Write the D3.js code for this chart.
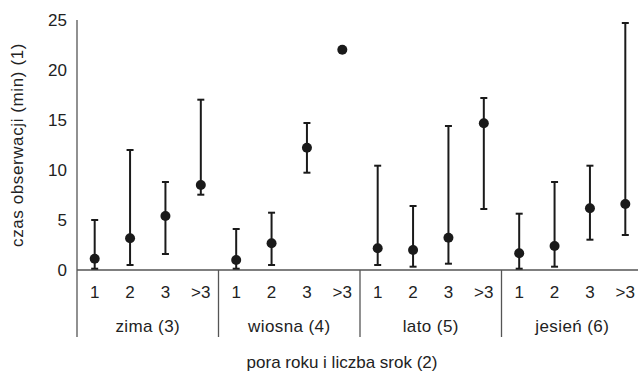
<!DOCTYPE html>
<html><head><meta charset="utf-8">
<script src="https://cdn.jsdelivr.net/npm/d3@7"></script>
<style>body{margin:0;background:#fff}svg{display:block}text{font-family:"Liberation Sans",Arial,sans-serif;fill:#222}</style>
</head><body><svg id="c" width="638" height="373"></svg>
<script>
const seasons = ["zima (3)", "wiosna (4)", "lato (5)", "jesień (6)"];
const counts = ["1", "2", "3", ">3"];
const means = [
  [1.13, 3.17, 5.4, 8.5],
  [1.0, 2.67, 12.23, 22.03],
  [2.17, 2.0, 3.23, 14.67],
  [1.67, 2.4, 6.17, 6.6]
];
const lows = [
  [0.13, 0.5, 1.6, 7.53],
  [0.13, 0.5, 9.73, null],
  [0.5, 0.33, 0.63, 6.1],
  [0.13, 0.33, 3.03, 3.5]
];
const highs = [
  [5.0, 12.0, 8.8, 17.03],
  [4.1, 5.73, 14.7, null],
  [10.43, 6.4, 14.4, 17.2],
  [5.63, 8.8, 10.43, 24.7]
];
const yTicks = [0, 5, 10, 15, 20, 25];

const svg = d3.select("#c");
const pLeft = 77, pRight = 643, pTop = 20, pBottom = 270;
const fs = "17px";
const keys = [];
seasons.forEach((s, i) => counts.forEach((c, j) => keys.push(i + "|" + j)));
const x = d3.scaleBand().domain(keys).range([pLeft, pRight]);
const y = d3.scaleLinear().domain([0, 25]).range([pBottom, pTop]);
const data = [];
seasons.forEach((s, i) => counts.forEach((c, j) => data.push({key: i + "|" + j, c, m: means[i][j], lo: lows[i][j], hi: highs[i][j]})));

// y axis
const ya = svg.append("g").attr("transform", `translate(${pLeft},0)`)
  .call(d3.axisLeft(y).tickValues(yTicks).tickSize(0).tickPadding(10).tickFormat(d3.format("d")));
ya.select(".domain").remove();
ya.selectAll("text").style("font-size", fs).attr("fill", "#222").style("font-family", '"Liberation Sans",Arial,sans-serif');
svg.append("line").attr("x1", pLeft).attr("x2", pLeft).attr("y1", pTop).attr("y2", 337).attr("stroke", "#555").attr("stroke-width", 1.3);
svg.append("line").attr("x1", pLeft).attr("x2", 638).attr("y1", pBottom).attr("y2", pBottom).attr("stroke", "#555").attr("stroke-width", 1.3);

// group separators
const gw = x.step() * counts.length;
seasons.forEach((s, i) => {
  const gx = pLeft + gw * i;
  if (i > 0) svg.append("line").attr("x1", gx).attr("x2", gx).attr("y1", pBottom).attr("y2", 337).attr("stroke", "#555").attr("stroke-width", 1.3);
  svg.append("text").attr("x", gx + gw / 2).attr("y", 332).attr("text-anchor", "middle")
    .style("font-size", fs).style("letter-spacing", "0.4px").text(s);
});
// category labels
svg.selectAll("text.cat").data(data).enter().append("text").attr("class", "cat")
  .attr("x", d => x(d.key) + x.bandwidth() / 2).attr("y", 298).attr("text-anchor", "middle")
  .style("font-size", fs).text(d => d.c);

// error bars
const eb = data.filter(d => d.lo != null);
const cx = d => x(d.key) + x.bandwidth() / 2;
svg.selectAll("line.eb").data(eb).enter().append("line").attr("class", "eb")
  .attr("x1", cx).attr("x2", cx).attr("y1", d => y(d.lo)).attr("y2", d => y(d.hi))
  .attr("stroke", "#1a1a1a").attr("stroke-width", 2);
["lo", "hi"].forEach(k => {
  svg.selectAll("line.cap" + k).data(eb).enter().append("line").attr("class", "cap" + k)
    .attr("x1", d => cx(d) - 3.5).attr("x2", d => cx(d) + 3.5)
    .attr("y1", d => y(d[k])).attr("y2", d => y(d[k]))
    .attr("stroke", "#1a1a1a").attr("stroke-width", 2);
});
svg.selectAll("circle").data(data).enter().append("circle")
  .attr("cx", cx).attr("cy", d => y(d.m)).attr("r", 5).attr("fill", "#1a1a1a");

// titles
svg.append("text").attr("transform", "translate(23,145) rotate(-90)").attr("text-anchor", "middle")
  .style("font-size", fs).style("letter-spacing", "0.6px").text("czas obserwacji (min) (1)");
svg.append("text").attr("x", 342).attr("y", 368).attr("text-anchor", "middle").style("font-size", fs).text("pora roku i liczba srok (2)");
</script></body></html>
